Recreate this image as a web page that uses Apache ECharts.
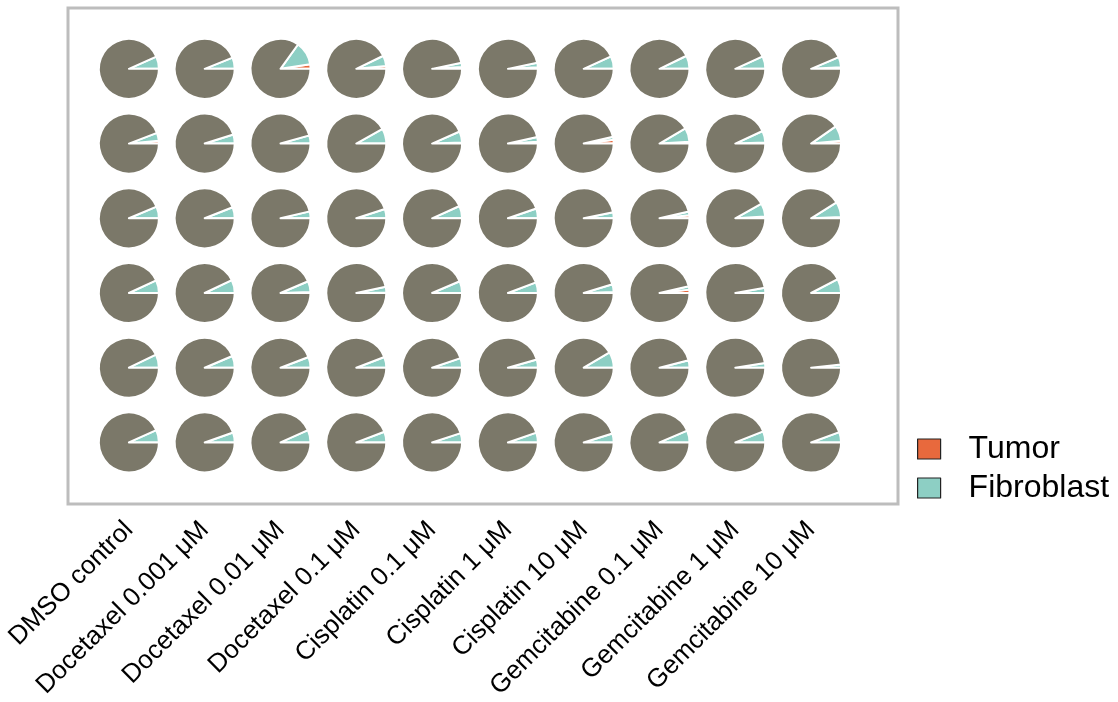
<!DOCTYPE html>
<html>
<head>
<meta charset="utf-8">
<script src="https://cdn.jsdelivr.net/npm/echarts@6/dist/echarts.min.js"></script>
<style>
html,body{margin:0;padding:0;background:#fff;}
#chart{width:1118px;height:702px;}
</style>
</head>
<body>
<div id="chart"></div>
<script>
// Treatments (columns)
const treatments = ["DMSO control","Docetaxel 0.001 μM","Docetaxel 0.01 μM","Docetaxel 0.1 μM","Cisplatin 0.1 μM","Cisplatin 1 μM","Cisplatin 10 μM","Gemcitabine 0.1 μM","Gemcitabine 1 μM","Gemcitabine 10 μM"];
// Replicate rows (top to bottom)
const replicates = ["R1","R2","R3","R4","R5","R6"];

// Tumor fraction per well (row by row)
const tumorR1 = [0.000,0.000,0.025,0.015,0.010,0.008,0.000,0.000,0.000,0.008];
const tumorR2 = [0.015,0.000,0.000,0.000,0.006,0.010,0.020,0.010,0.006,0.015];
const tumorR3 = [0.000,0.000,0.002,0.000,0.000,0.000,0.000,0.016,0.010,0.007];
const tumorR4 = [0.000,0.000,0.006,0.003,0.000,0.000,0.006,0.018,0.002,0.000];
const tumorR5 = [0.000,0.000,0.000,0.000,0.000,0.000,0.000,0.000,0.000,0.000];
const tumorR6 = [0.000,0.000,0.000,0.000,0.000,0.000,0.000,0.000,0.000,0.000];

// Fibroblast fraction per well
const fibroR1 = [0.067,0.061,0.126,0.057,0.023,0.025,0.068,0.072,0.068,0.056];
const fibroR2 = [0.043,0.049,0.044,0.081,0.060,0.025,0.016,0.075,0.063,0.082];
const fibroR3 = [0.064,0.060,0.035,0.050,0.067,0.053,0.032,0.020,0.071,0.082];
const fibroR4 = [0.069,0.071,0.058,0.030,0.064,0.058,0.041,0.018,0.026,0.077];
const fibroR5 = [0.072,0.064,0.058,0.058,0.052,0.044,0.085,0.040,0.025,0.017];
const fibroR6 = [0.067,0.054,0.067,0.058,0.050,0.053,0.048,0.064,0.060,0.056];

const tumorRows = [tumorR1,tumorR2,tumorR3,tumorR4,tumorR5,tumorR6];
const fibroRows = [fibroR1,fibroR2,fibroR3,fibroR4,fibroR5,fibroR6];

const COL_TUMOR = "#e8693d";
const COL_FIBRO = "#8dcfc4";
const COL_OTHER = "#7b7869";

const chart = echarts.init(document.getElementById('chart'), null, {renderer:'canvas'});

const base = {
  animation: false,
  backgroundColor: '#ffffff',
  textStyle: {fontFamily: 'Liberation Sans, Arial, sans-serif'},
  grid: [
    {left: 68, top: 8, width: 830, height: 496, show: true, borderColor: '#bdbdbd', borderWidth: 3, backgroundColor: 'transparent'},
    {left: 91, top: 31.5, width: 758, height: 450, show: false}
  ],
  xAxis: [
    {gridIndex: 0, type: 'value', show: false, min: 0, max: 1},
    {gridIndex: 1, type: 'category', data: treatments, boundaryGap: true,
     axisLine: {show: false}, axisTick: {show: false}, splitLine: {show: false},
     axisLabel: {rotate: 45, interval: 0, margin: 46, fontSize: 26, color: '#000000',
                 fontFamily: 'Liberation Sans, Arial, sans-serif'}}
  ],
  yAxis: [
    {gridIndex: 0, type: 'value', show: false, min: 0, max: 1},
    {gridIndex: 1, type: 'category', data: replicates, inverse: true, boundaryGap: true, show: false}
  ],
  legend: {
    data: ['Tumor','Fibroblast'],
    orient: 'vertical',
    left: 917, top: 433, padding: 0,
    icon: 'rect', itemWidth: 23, itemHeight: 20, itemGap: 7,
    textStyle: {fontSize: 32, color: '#000000', fontFamily: 'Liberation Sans, Arial, sans-serif', padding:[0,0,0,23]},
    itemStyle: {borderColor: '#222222', borderWidth: 1.2},
    selectedMode: false
  },
  series: []
};
chart.setOption(base);

const series = [];
replicates.forEach((rep, r) => {
  treatments.forEach((tr, c) => {
    const center = chart.convertToPixel({xAxisIndex: 1, yAxisIndex: 1}, [c, r]);
    const t = tumorRows[r][c], f = fibroRows[r][c];
    series.push({
      type: 'pie',
      center: center,
      radius: [0, 30],
      startAngle: 0,
      clockwise: false,
      label: {show: false},
      labelLine: {show: false},
      silent: true,
      avoidLabelOverlap: false,
      itemStyle: {borderColor: '#ffffff', borderWidth: 2},
      data: [
        {name: 'Tumor', value: t, itemStyle: {color: COL_TUMOR}},
        {name: 'Fibroblast', value: f, itemStyle: {color: COL_FIBRO}},
        {name: 'Other', value: 1 - t - f, itemStyle: {color: COL_OTHER}}
      ]
    });
  });
});
chart.setOption({series: series});
</script>
</body>
</html>
